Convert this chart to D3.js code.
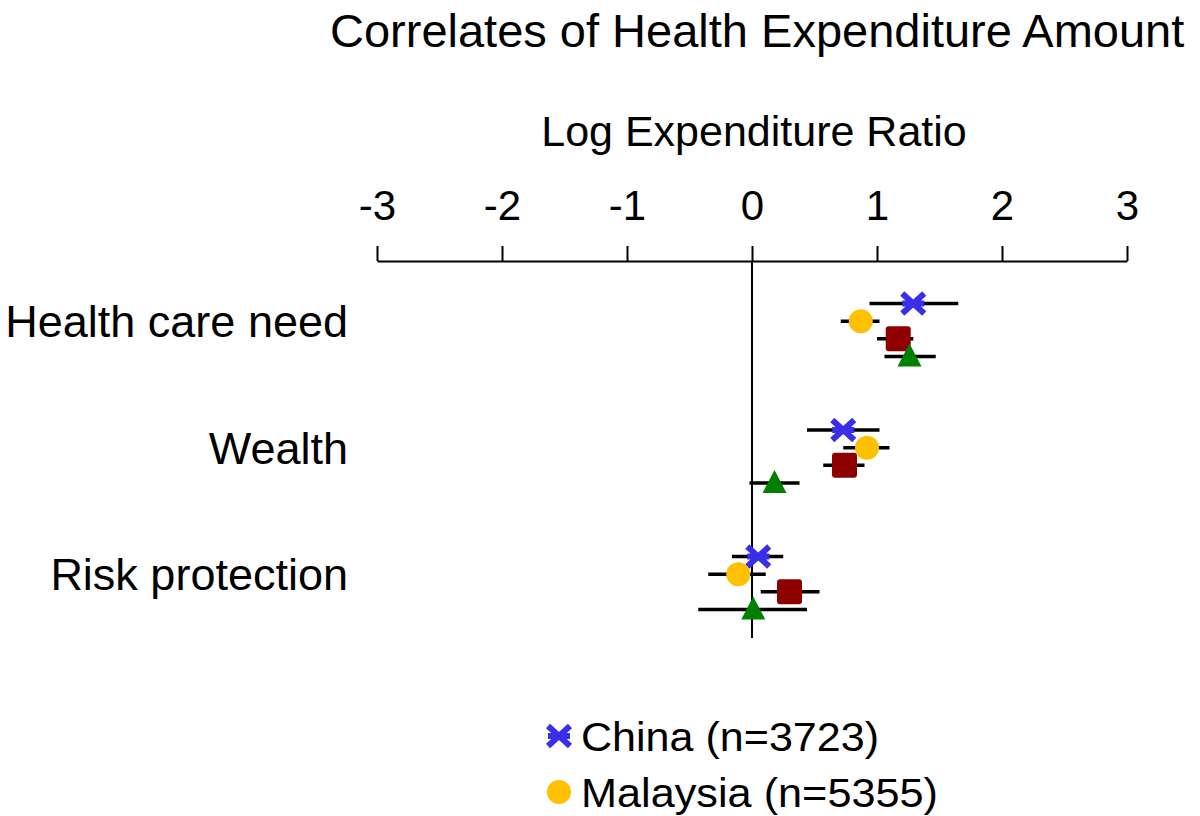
<!DOCTYPE html>
<html>
<head>
<meta charset="utf-8">
<script src="https://cdn.jsdelivr.net/npm/d3@7"></script>
<style>
  body { margin: 0; background: #fff; }
  text { font-family: "Liberation Sans", Arial, sans-serif; fill: #000; }
</style>
</head>
<body>
<div id="chart"></div>
<script>
// categories (top to bottom) and the four series
var categories = ["Health care need", "Wealth", "Risk protection"];
var seriesNames = ["China (n=3723)", "Malaysia (n=5355)", "Series 3", "Series 4"];
var seriesColors = ["#3a2ee8", "#ffc000", "#8e0000", "#008000"];
var seriesShapes = ["star", "circle", "square", "triangle"];

// point estimate, lower and upper bound per series, one value per category
var china = [1.29, 0.73, 0.05];
var chinaLo = [0.94, 0.44, -0.16];
var chinaHi = [1.65, 1.02, 0.25];

var malaysia = [0.87, 0.92, -0.11];
var malaysiaLo = [0.71, 0.73, -0.35];
var malaysiaHi = [1.02, 1.10, 0.11];

var series3 = [1.17, 0.74, 0.30];
var series3Lo = [1.00, 0.57, 0.07];
var series3Hi = [1.29, 0.90, 0.54];

var series4 = [1.26, 0.18, 0.01];
var series4Lo = [1.06, -0.02, -0.43];
var series4Hi = [1.47, 0.38, 0.44];

var tickValues = [-3, -2, -1, 0, 1, 2, 3];

var width = 1200, height = 816;

var svg = d3.select("#chart").append("svg")
  .attr("width", width)
  .attr("height", height);

// scales
var x = d3.scaleLinear().domain([-3, 3]).range([377, 1127]);
var y = d3.scaleBand().domain(categories).range([266.75, 646.25]).padding(0);
var ySeries = d3.scalePoint().domain(seriesNames).range([-26.5, 26.5]);

// build rows from the arrays
var estimates = [china, malaysia, series3, series4];
var lows = [chinaLo, malaysiaLo, series3Lo, series4Lo];
var highs = [chinaHi, malaysiaHi, series3Hi, series4Hi];
var rows = [];
categories.forEach(function(c, ci) {
  seriesNames.forEach(function(s, si) {
    rows.push({cat: c, series: s, si: si, est: estimates[si][ci], lo: lows[si][ci], hi: highs[si][ci]});
  });
});

// titles
svg.append("text")
  .attr("x", 330).attr("y", 47)
  .style("font-size", "47px")
  .text("Correlates of Health Expenditure Amount");

svg.append("text")
  .attr("x", 754).attr("y", 146)
  .attr("text-anchor", "middle")
  .style("font-size", "43px")
  .text("Log Expenditure Ratio");

// axis on top
var axis = d3.axisTop(x)
  .tickValues(tickValues)
  .tickSize(15)
  .tickSizeOuter(0)
  .tickPadding(26)
  .tickFormat(d3.format("d"));

var gAxis = svg.append("g")
  .attr("transform", "translate(0,261)")
  .call(axis);
gAxis.select(".domain").attr("stroke", "#000").attr("stroke-width", 2);
gAxis.selectAll(".tick line").attr("stroke", "#000").attr("stroke-width", 2);
gAxis.selectAll(".tick text")
  .attr("fill", "#000")
  .style("font-size", "42px")
  .style("font-family", "'Liberation Sans', Arial, sans-serif")
  .text(function(d) { return d < 0 ? "-" + Math.abs(d) : d; });

// zero reference line
svg.append("line")
  .attr("x1", x(0)).attr("x2", x(0))
  .attr("y1", 261).attr("y2", 638)
  .attr("stroke", "#000")
  .attr("stroke-width", 2);

// category labels
svg.selectAll(".cat-label")
  .data(categories)
  .enter().append("text")
  .attr("class", "cat-label")
  .attr("x", 348)
  .attr("y", function(d) { return y(d) + y.bandwidth() / 2 + 7; })
  .attr("text-anchor", "end")
  .style("font-size", "45px")
  .text(function(d) { return d; });

// marker drawing
function drawMarker(sel, shape, color) {
  if (shape == "circle") {
    sel.append("circle").attr("r", 12).attr("fill", color);
  } else if (shape == "square") {
    sel.append("rect")
      .attr("x", -12.5).attr("y", -12.5)
      .attr("width", 25).attr("height", 25)
      .attr("rx", 3)
      .attr("fill", color);
  } else if (shape == "triangle") {
    sel.append("path")
      .attr("d", "M0,-13L12,10L-12,10Z")
      .attr("fill", color);
  } else {
    // star: an X with a cross bar
    sel.append("path")
      .attr("d", "M-11,-10L11,10M-11,10L11,-10M-11,0H11")
      .attr("stroke", color)
      .attr("stroke-width", 6)
      .attr("fill", "none");
  }
}

var point = svg.selectAll(".point")
  .data(rows)
  .enter().append("g")
  .attr("class", "point")
  .attr("transform", function(d) {
    return "translate(0," + (y(d.cat) + y.bandwidth() / 2 + ySeries(d.series)) + ")";
  });

point.each(function(d) {
  var g = d3.select(this);
  g.append("line")
    .attr("x1", x(d.lo)).attr("x2", x(d.hi))
    .attr("y1", 0).attr("y2", 0)
    .attr("stroke", "#000")
    .attr("stroke-width", 3.5);
  var m = g.append("g").attr("transform", "translate(" + x(d.est) + ",0)");
  drawMarker(m, seriesShapes[d.si], seriesColors[d.si]);
});

// legend (only the first two entries fit in the picture)
var legendY = [736, 792];
var legendLen = [298, 357];
[0, 1].forEach(function(i) {
  var lg = svg.append("g").attr("transform", "translate(559," + legendY[i] + ")");
  drawMarker(lg, seriesShapes[i], seriesColors[i]);
  lg.append("text")
    .attr("x", 22)
    .attr("y", 15)
    .attr("textLength", legendLen[i])
    .attr("lengthAdjust", "spacingAndGlyphs")
    .style("font-size", "41px")
    .text(seriesNames[i]);
});
</script>
</body>
</html>
